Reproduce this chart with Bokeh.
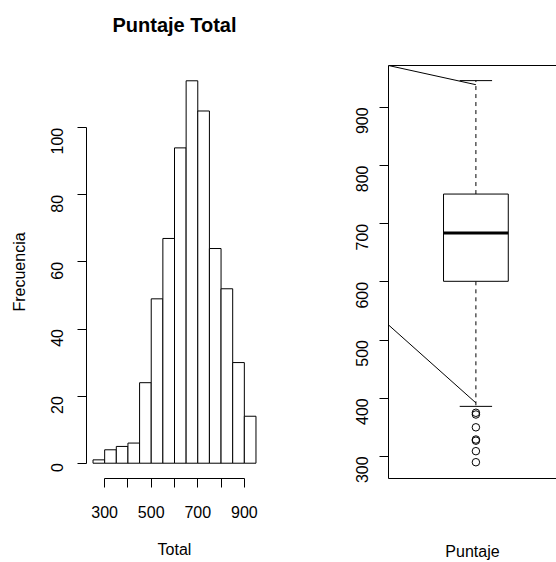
import math
from bokeh.plotting import figure
from bokeh.layouts import row
from bokeh.models import Range1d, FixedTicker, LinearAxis
from bokeh.embed import file_html
from bokeh.resources import INLINE

# ---- data ----
bin_edges = [250, 300, 350, 400, 450, 500, 550, 600, 650, 700, 750, 800, 850, 900, 950]
bin_counts = [1, 4, 5, 6, 24, 49, 67, 94, 114, 105, 64, 52, 30, 14]
hist_x_ticks = [300, 400, 500, 600, 700, 800, 900]
hist_y_ticks = [0, 20, 40, 60, 80, 100]
box_y_ticks = [300, 400, 500, 600, 700, 800, 900]

box_q1 = 601
box_median = 684
box_q3 = 751
whisker_low = 386
whisker_high = 946
outliers = [375, 372, 350, 329, 327, 309, 290]

# stray connector lines seen in the boxplot panel (data coordinates)
stray_x0 = [0.46, 0.46]
stray_y0 = [972, 526]
stray_x1 = [1.0, 1.0]
stray_y1 = [939, 392]

FONT = "Liberation Sans"

def style_axis(ax, size="16px"):
    ax.axis_line_color = "black"
    ax.axis_line_width = 1
    ax.major_tick_line_color = "black"
    ax.major_tick_in = 0
    ax.major_tick_out = 9
    ax.minor_tick_line_color = None
    ax.major_label_text_font = FONT
    ax.major_label_text_font_size = size
    ax.major_label_text_color = "black"
    ax.axis_label_text_font = FONT
    ax.axis_label_text_font_size = size
    ax.axis_label_text_font_style = "normal"
    ax.axis_label_text_color = "black"

# ---- histogram ----
p1 = figure(width=278, height=562, output_backend="svg", toolbar_location=None,
            x_range=Range1d(222, 978), y_range=Range1d(-4.56, 118.56),
            min_border_left=86, min_border_right=16, min_border_top=65, min_border_bottom=83)
p1.outline_line_color = None
p1.grid.visible = False
p1.background_fill_color = "white"
p1.border_fill_color = "white"

p1.quad(left=bin_edges[:-1], right=bin_edges[1:], top=bin_counts, bottom=0,
        fill_color="white", line_color="black", line_width=1)

xa = p1.xaxis[0]
style_axis(xa)
xa.ticker = FixedTicker(ticks=hist_x_ticks)
xa.bounds = (300, 900)
xa.major_label_overrides = {400: "", 600: "", 800: ""}
xa.major_label_standoff = 18
xa.axis_label = "Total"
xa.axis_label_standoff = 20

ya = p1.yaxis[0]
style_axis(ya)
ya.ticker = FixedTicker(ticks=hist_y_ticks)
ya.bounds = (0, 100)
ya.major_label_orientation = math.pi / 2
ya.major_label_standoff = 20
ya.axis_label = "Frecuencia"
ya.axis_label_standoff = 15

p1.title.text = "Puntaje Total\n "
p1.title.align = "center"
p1.title.vertical_align = "bottom"
p1.title.text_font = FONT
p1.title.text_font_size = "20px"
p1.title.text_font_style = "bold"
p1.title.text_color = "black"
p1.title.standoff = 15

# ---- boxplot ----
p2 = figure(width=278, height=562, output_backend="svg", toolbar_location=None,
            x_range=Range1d(0.46, 1.498), y_range=Range1d(262, 972),
            min_border_left=110, min_border_right=0, min_border_top=65, min_border_bottom=83)
p2.outline_line_color = None
p2.grid.visible = False
p2.background_fill_color = "white"
p2.border_fill_color = "white"

p2.segment(x0=[1, 1], y0=[box_q3, box_q1], x1=[1, 1], y1=[whisker_high, whisker_low],
           line_color="black", line_width=1, line_dash="4 4")
p2.segment(x0=[0.9, 0.9], y0=[whisker_high, whisker_low], x1=[1.1, 1.1], y1=[whisker_high, whisker_low],
           line_color="black", line_width=1)
p2.quad(left=[0.8], right=[1.2], bottom=[box_q1], top=[box_q3],
        fill_color="white", line_color="black", line_width=1)
p2.segment(x0=[0.8], y0=[box_median], x1=[1.2], y1=[box_median],
           line_color="black", line_width=3)
p2.scatter(x=[1] * len(outliers), y=outliers, marker="circle", size=7.5,
           fill_color=None, line_color="black", line_width=1)
p2.segment(x0=stray_x0, y0=stray_y0, x1=stray_x1, y1=stray_y1,
           line_color="black", line_width=1)

ya2 = p2.yaxis[0]
style_axis(ya2)
ya2.ticker = FixedTicker(ticks=box_y_ticks)
ya2.major_label_orientation = math.pi / 2
ya2.major_label_standoff = 17

xa2 = p2.xaxis[0]
style_axis(xa2)
xa2.ticker = FixedTicker(ticks=[])
xa2.major_tick_out = 0
xa2.axis_label = "Puntaje"
xa2.axis_label_standoff = 64

top_ax = LinearAxis(ticker=FixedTicker(ticks=[]))
style_axis(top_ax)
top_ax.major_tick_out = 0
p2.add_layout(top_ax, "above")

layout = row(p1, p2)
open("out.html", "w").write(file_html(layout, INLINE))
